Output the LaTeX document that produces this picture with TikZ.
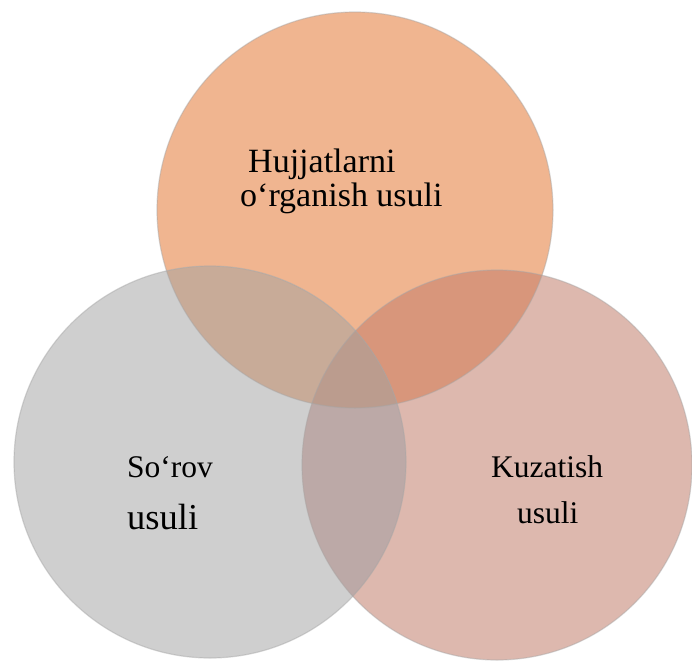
\documentclass[tikz,border=0pt]{standalone}
\usepackage{fontspec}
\setmainfont{Liberation Serif}
\usetikzlibrary{positioning}

\definecolor{docsfill}{HTML}{F0B590}
\definecolor{pollfill}{HTML}{CFCFCF}
\definecolor{watchfill}{HTML}{DDB8AE}
\definecolor{docspoll}{HTML}{C8AB98}
\definecolor{docswatch}{HTML}{D8967B}
\definecolor{pollwatch}{HTML}{BCA9A7}
\definecolor{allthree}{HTML}{BB9C8E}

\tikzset{
    set/.style={circle, inner sep=0pt},
    rim/.style={draw=black!35, draw opacity=0.45, line width=1.2pt},
    lbl/.style={anchor=base west, inner sep=0pt, font=\fontsize{#1}{#1}\selectfont},
}

\begin{document}
\begin{tikzpicture}[x=1pt,y=-1pt]
    \useasboundingbox (0,0) rectangle (692,662);

    % The three sets
    \node[set, fill=docsfill, minimum size=396pt] (docs) at (355,210) {};
    \node[set, fill=pollfill, minimum size=392pt] (poll) at (210,462) {};
    \node[set, fill=watchfill, minimum size=390pt] (watch) at (497,465) {};

    % Overlaps
    \begin{scope}
        \clip (docs.center) circle (198pt);
        \fill[docspoll] (poll.center) circle (196pt);
        \fill[docswatch] (watch.center) circle (195pt);
    \end{scope}
    \begin{scope}
        \clip (poll.center) circle (196pt);
        \fill[pollwatch] (watch.center) circle (195pt);
        \clip (watch.center) circle (195pt);
        \fill[allthree] (docs.center) circle (198pt);
    \end{scope}

    % Outlines
    \foreach \s/\r in {docs/198, poll/196, watch/195}
        \draw[rim] (\s.center) circle (\r pt);

    % Labels
    \node[lbl=34] (docsA) at (248,172) {Hujjatlarni};
    \node[lbl=34] (docsB) at (240,206) {o‘rganish usuli};
    \node[lbl=31.5] (pollA) at (127,477) {So‘rov};
    \node[lbl=36.5] (pollB) at (127,529) {usuli};
    \node[lbl=31.5] (watchA) at (491,477) {Kuzatish};
    \node[lbl=31.5] (watchB) at (517,523) {usuli};
\end{tikzpicture}
\end{document}
